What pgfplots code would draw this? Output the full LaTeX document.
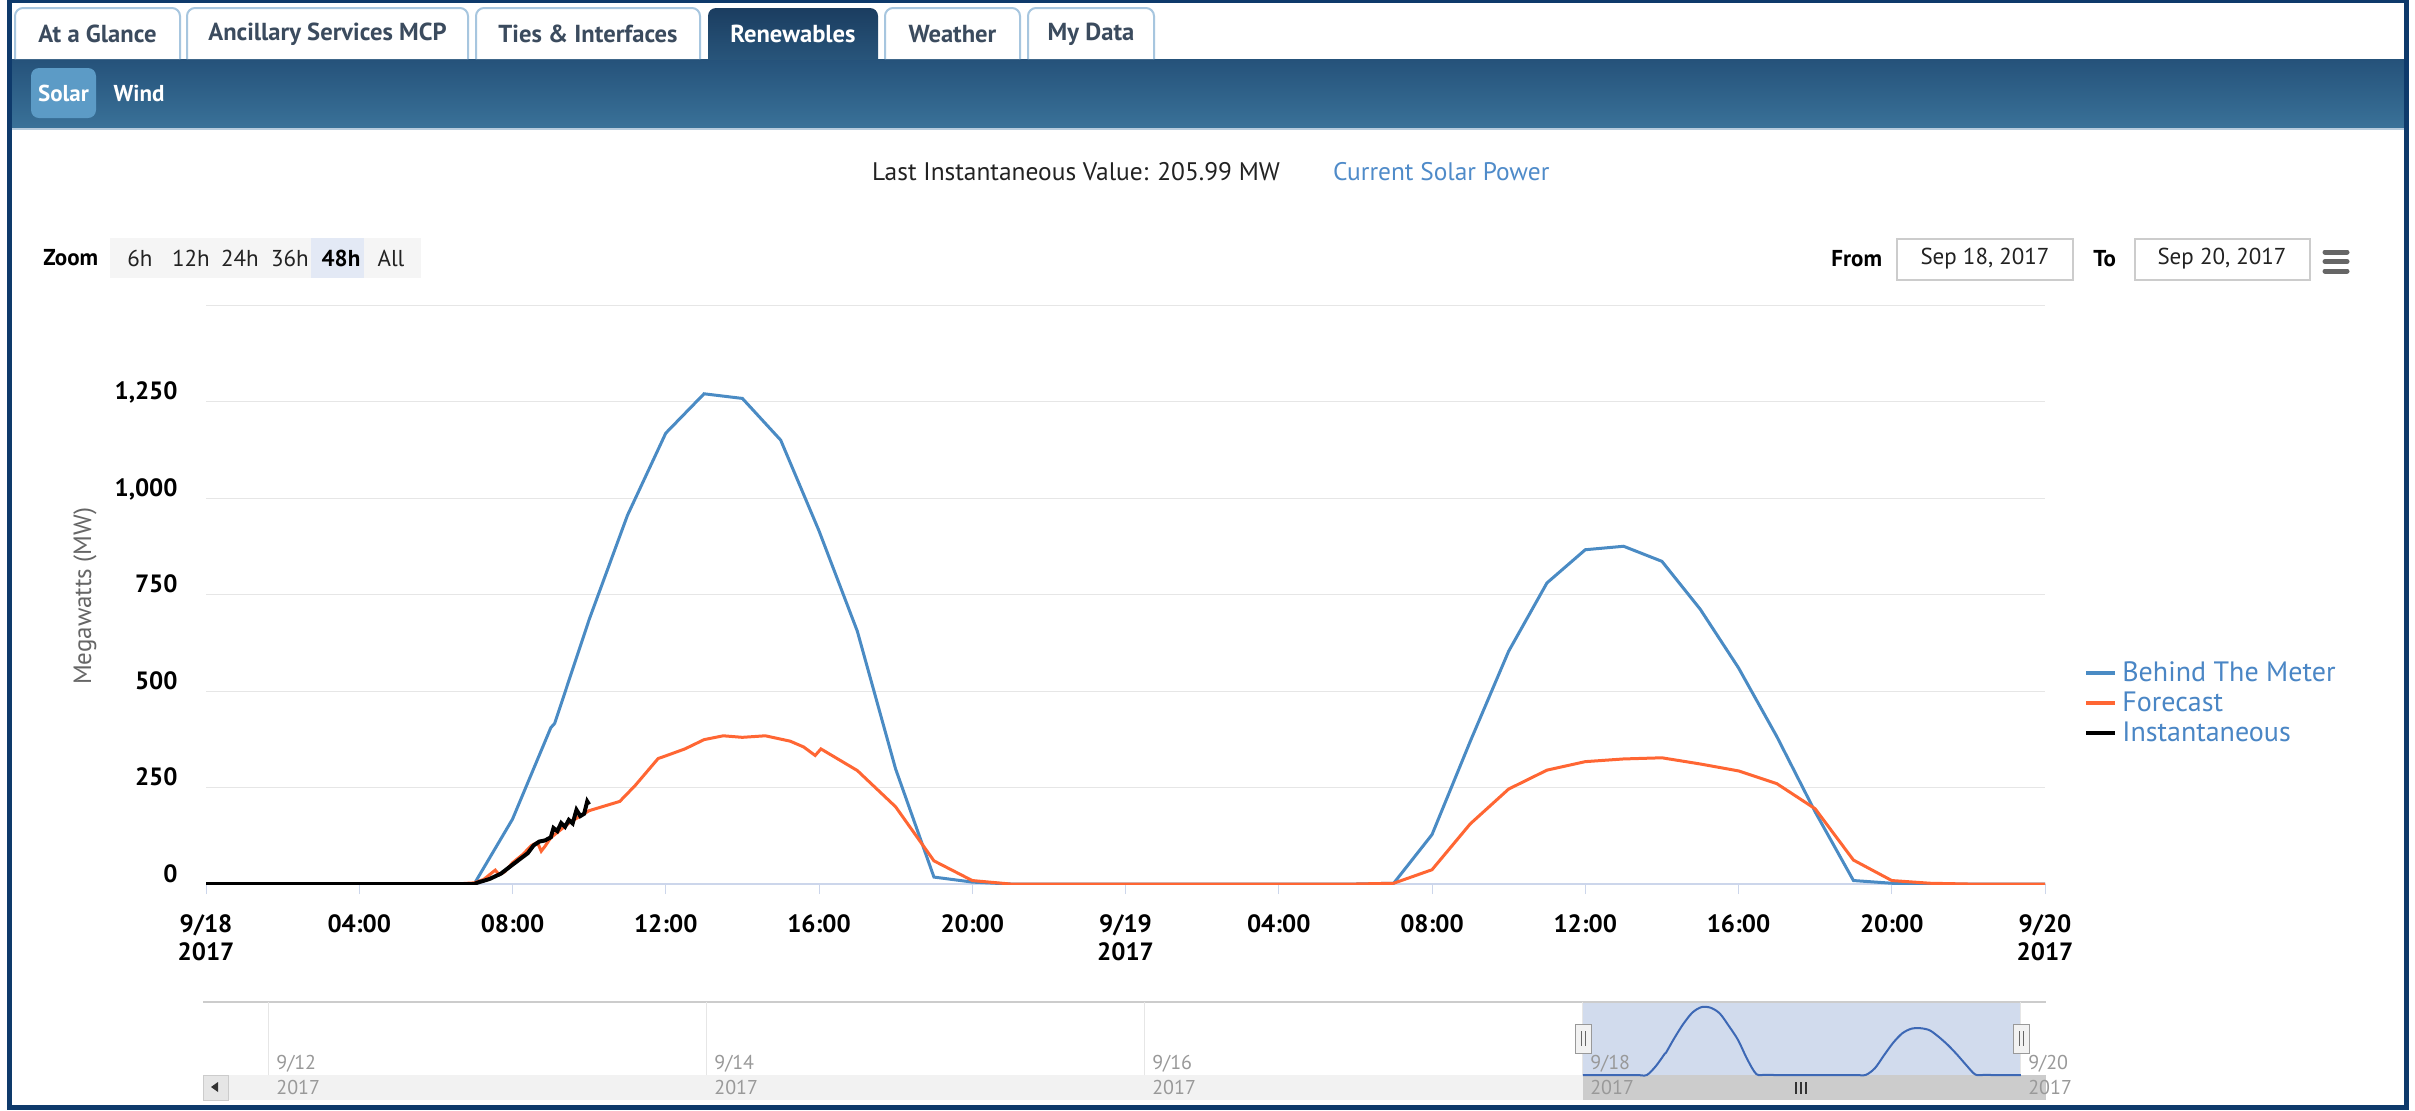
\documentclass[border=0pt]{standalone}
\usepackage{fontspec}
\setmainfont{PT Sans}
\usepackage{pgfplots}
\pgfplotsset{compat=1.18}
\usepackage{pgfplotstable}

\definecolor{navy}{HTML}{0E3A6B}
\definecolor{bandtop}{HTML}{25527A}
\definecolor{bandbot}{HTML}{3A7299}
\definecolor{bandline}{HTML}{B8CCDD}
\definecolor{tabborder}{HTML}{A7C6DF}
\definecolor{tabtext}{HTML}{3B4B5E}
\definecolor{renewtop}{HTML}{1B3D60}
\definecolor{renewbot}{HTML}{28557B}
\definecolor{solarbtn}{HTML}{5C9BC6}
\definecolor{gridgray}{HTML}{E6E6E6}
\definecolor{axisline}{HTML}{CCD6EB}
\definecolor{btm}{HTML}{4A8BC4}
\definecolor{fc}{HTML}{FF6633}
\definecolor{legtext}{HTML}{4A86C5}
\definecolor{link}{HTML}{4F8BC9}
\definecolor{navsel}{HTML}{D1DBED}
\definecolor{navline}{HTML}{3D68B5}
\definecolor{scrollbg}{HTML}{F2F2F2}
\definecolor{scrollthumb}{HTML}{CCCCCC}
\definecolor{navlabel}{HTML}{999999}
\definecolor{zoombg}{HTML}{F5F5F5}
\definecolor{zoomsel}{HTML}{E3E9F5}
\definecolor{boxborder}{HTML}{CCCCCC}
\definecolor{txt}{HTML}{222222}
\definecolor{hamb}{HTML}{666666}

\newcommand\tabfont{\fontsize{12.3pt}{14pt}\selectfont}
\newcommand\btnfont{\fontsize{11.5pt}{13pt}\selectfont}
\newcommand\uifont{\fontsize{11.5pt}{13pt}\selectfont}
\newcommand\titlefont{\fontsize{12.7pt}{14pt}\selectfont}
\newcommand\tickfont{\fontsize{12.5pt}{14pt}\selectfont}

\pgfplotstableread{
h v
0 0
1 0
2 0
3 0
4 0
5 0
6 0
7 0
8 168
9 405
9.1 416
10 685
11 955
12 1168
13 1270
14 1258
15 1150
16 915
17 655
18 298
19 18
20 5
21 0
22 0
23 0
24 0
25 0
26 0
27 0
28 0
29 0
30 0
31 2
32 128
33 370
34 603
35 780
36 866
37 875
38 836
39 712
40 560
41 382
42 187
43 9
44 2
45 0
46 0
47 0
48 0
}\btmdata

\pgfplotstableread{
h v
0 0
6.5 0
7 3
7.25 12
7.45 28
7.55 36
7.65 24
7.8 32
8.0 55
8.25 75
8.5 100
8.65 108
8.75 85
8.85 98
9.0 120
9.25 140
9.5 160
9.75 175
10 190
10.8 214
11.2 255
11.8 325
12 332
12.5 350
13 374
13.5 384
14 380
14.6 384
15.25 370
15.6 355
15.9 333
16.05 350
17 294
18 200
19 60
20 9
21 0
30 0
31 2
32 37
33 156
34 246
35 295
36 317
37 324
38 327
39 311
40 293
41 260
42 195
43 62
44 9
45 2
46 0
48 0
}\fcdata

\pgfplotstableread{
h v
0 0
7 0
7.1 4
7.4 13
7.7 27
8.0 50
8.2 65
8.4 80
8.55 100
8.7 110
8.85 113
9.0 121
9.07 145
9.17 137
9.27 158
9.37 148
9.47 166
9.57 157
9.67 192
9.77 176
9.87 182
9.95 214
10.0 206
}\instdata

\begin{document}
\begin{tikzpicture}
\begin{scope}[x=0.5pt,y=-0.5pt]
\path[use as bounding box] (0,0) rectangle (2415,1110);
\fill[white] (0,0) rectangle (2415,1110);
% band
\shade[top color=bandtop, bottom color=bandbot] (12,59) rectangle (2404,129);
\draw[bandline, line width=1pt] (12,129) -- (2404,129);
% tabs
\foreach \a/\b/\t in {15/180/At a Glance, 187/468/Ancillary Services MCP, 476/700/Ties \& Interfaces, 885/1020/Weather, 1028/1154/My Data}{
  \filldraw[fill=white, draw=tabborder, line width=1pt, rounded corners=4pt] (\a,59) -- (\a,8) -- (\b,8) -- (\b,59);
  \node[font=\bfseries\tabfont, text=tabtext] at ({(\a+\b)/2},34) {\t};
}
\shade[top color=renewtop, bottom color=renewbot, rounded corners=4pt] (708,60) -- (708,8) -- (878,8) -- (878,60);
\node[font=\bfseries\tabfont, text=white] at (793,34) {Renewables};
% solar / wind
\fill[solarbtn, rounded corners=4pt] (31,68) rectangle (96,118);
\node[font=\bfseries\btnfont, text=white] at (63.5,93) {Solar};
\node[font=\bfseries\btnfont, text=white] at (139,93) {Wind};
% title line
\node[anchor=west, font=\titlefont, text=txt] at (865,172) {Last Instantaneous Value: 205.99 MW};
\node[anchor=west, font=\titlefont, text=link] at (1326,172) {Current Solar Power};
% zoom row
\node[anchor=west, font=\bfseries\uifont, text=black, inner sep=0pt] at (43,258) {Zoom};
\fill[zoombg] (110,238) rectangle (421,278);
\fill[zoomsel] (311,238) rectangle (364,278);
\foreach \x/\t in {140/6h, 191/12h, 240/24h, 290/36h, 391/All}{
  \node[font=\uifont, text=txt] at (\x,258) {\t};
}
\node[font=\bfseries\uifont, text=black] at (341,258) {48h};
% from / to
\node[anchor=west, font=\bfseries\uifont, text=black, inner sep=0pt] at (1831,259) {From};
\draw[boxborder, line width=1pt] (1897,239) rectangle (2073,280);
\node[font=\uifont, text=txt] at (1985,259) {Sep 18, 2017};
\node[anchor=west, font=\bfseries\uifont, text=black, inner sep=0pt] at (2093,259) {To};
\draw[boxborder, line width=1pt] (2135,239) rectangle (2310,280);
\node[font=\uifont, text=txt] at (2222,259) {Sep 20, 2017};
\foreach \y in {252,261.5,271}{
  \draw[hamb, line width=2.5pt, line cap=round] (2325,\y) -- (2347,\y);
}
% navigator background pieces
\fill[scrollbg] (203,1075) rectangle (2046,1100);
\filldraw[fill=gridgray, draw=boxborder, line width=0.5pt] (203,1075) rectangle (228,1100);
\fill[black!80] (211,1087) -- (218,1082) -- (218,1092) -- cycle;
\fill[scrollthumb] (1583,1075) rectangle (2046,1100);
\foreach \x in {1796,1801,1806}{
  \draw[black!80, line width=0.6pt] (\x,1082) -- (\x,1094);
}
\fill[navsel] (1583,1002) rectangle (2021,1075);
\draw[boxborder, line width=1pt] (203,1002) -- (2046,1002);
\end{scope}

% main chart
\begin{axis}[
  at={(103pt,-442pt)}, anchor=south west,
  scale only axis, width=919.5pt, height=289.5pt,
  xmin=0, xmax=48, ymin=0, ymax=1500,
  axis line style={draw=none},
  xtick={0,4,...,48},
  xtick pos=bottom,
  xticklabels={{9/18\\2017},04:00,08:00,12:00,16:00,20:00,{9/19\\2017},04:00,08:00,12:00,16:00,20:00,{9/20\\2017}},
  xticklabel style={font=\bfseries\tickfont, align=center, anchor=north, inner sep=0pt, yshift=-10pt, text=black},
  xtick style={draw=axisline, line width=0.5pt},
  tick align=outside, major tick length=5pt,
  ytick={0,250,...,1500},
  yticklabels={0,250,500,750,{1,000},{1,250},{}},
  yticklabel style={font=\bfseries\tickfont, anchor=base east, inner sep=0pt, xshift=-9pt, yshift=1pt, text=black},
  ytick style={draw=none},
  ymajorgrids, grid style={draw=gridgray, line width=0.5pt},
  ylabel={Megawatts (MW)},
  ylabel style={at={(rel axis cs:-0.0658,0.497)}, anchor=center, font=\fontsize{12.5pt}{14pt}\selectfont, text=hamb},
  legend style={at={(1.0212,0.3126)}, anchor=west, draw=none, fill=none, inner sep=0pt,
    font=\fontsize{14pt}{16pt}\selectfont, row sep=4pt,
    nodes={text=legtext, inner xsep=2.5pt, inner ysep=0pt, text height=9.5pt, text depth=1.5pt}},
  legend cell align=left,
  legend image code/.code={\draw[#1, line width=2pt] (0pt,0pt) -- (14.5pt,0pt);},
]
\draw[axisline, line width=1pt] (axis cs:0,0) -- (axis cs:48,0);
\addplot[btm, line width=1.5pt] table[x=h,y=v] {\btmdata};
\addlegendentry{Behind The Meter}
\addplot[fc, line width=1.5pt] table[x=h,y=v] {\fcdata};
\addlegendentry{Forecast}
\addplot[black, line width=2pt] table[x=h,y=v] {\instdata};
\addlegendentry{Instantaneous}
\end{axis}

% navigator
\begin{axis}[
  at={(103pt,-537.5pt)}, anchor=south west,
  scale only axis, width=919.5pt, height=36.5pt,
  xmin=-150.9, xmax=50.64, ymin=0, ymax=1365,
  axis line style={draw=none},
  ytick=\empty,
  xtick={-144,-96,-48,0,48},
  xticklabels={{9/12\\2017},{9/14\\2017},{9/16\\2017},{9/18\\2017},{9/20\\2017}},
  xticklabel style={anchor=north west, align=left, font=\fontsize{10pt}{12.5pt}\selectfont, text=navlabel, inner sep=0pt, xshift=3.5pt, yshift=10pt},
  xtick style={draw=none},
  xmajorgrids, grid style={draw=gridgray, line width=0.5pt},
  clip=false,
]
\addplot[navline, line width=1pt, smooth] table[x=h,y=v] {\btmdata};
\end{axis}

\begin{scope}[x=0.5pt,y=-0.5pt]
\foreach \x in {1583,2021}{
  \filldraw[fill=scrollbg, draw=navlabel, line width=0.5pt] (\x-8,1024) rectangle (\x+8,1053);
  \draw[hamb, line width=0.5pt] (\x-2,1031) -- (\x-2,1046);
  \draw[hamb, line width=0.5pt] (\x+2,1031) -- (\x+2,1046);
}
% frame
\fill[navy] (7,0) rectangle (2409,3);
\fill[navy] (7,0) rectangle (12,1110);
\fill[navy] (2404,0) rectangle (2409,1110);
\fill[navy] (7,1105) rectangle (2409,1110);
\end{scope}
\end{tikzpicture}
\end{document}
